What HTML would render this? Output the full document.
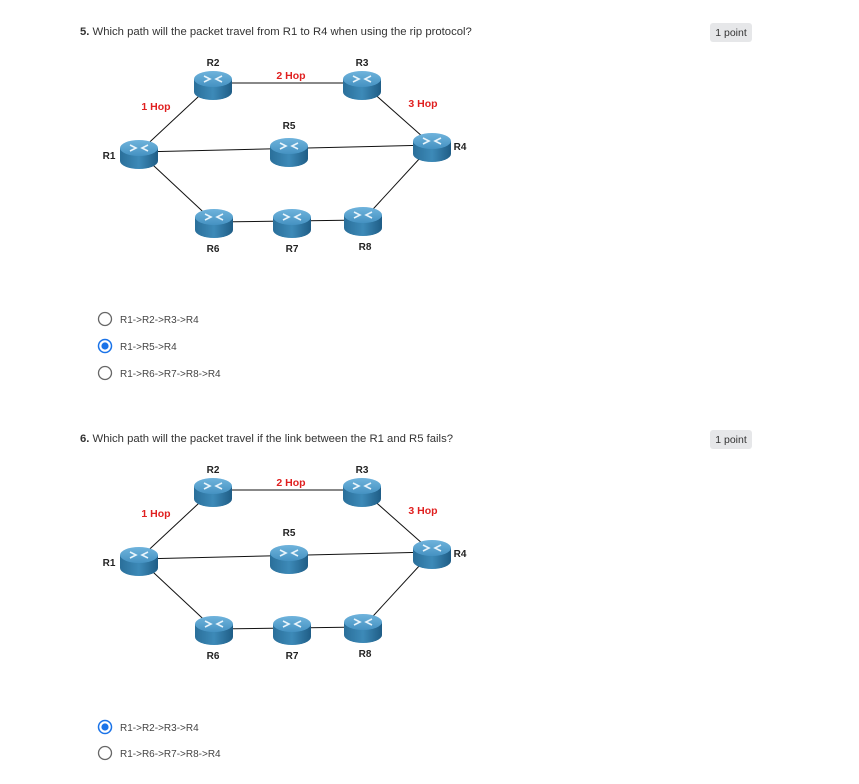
<!DOCTYPE html>
<html><head><meta charset="utf-8"><style>
body{margin:0;background:#fff;width:859px;height:784px;overflow:hidden}
svg{display:block}
.q{font-family:"Liberation Sans",sans-serif;font-size:11.3px;fill:#333}
.n{font-family:"Liberation Sans",sans-serif;font-size:10px;font-weight:bold;fill:#222}
.h{font-family:"Liberation Sans",sans-serif;font-size:10.5px;font-weight:bold;fill:#e02020}
.o{font-family:"Liberation Sans",sans-serif;font-size:10px;fill:#444}
.b{font-family:"Liberation Sans",sans-serif;font-size:10.5px;fill:#333}
</style></head><body>
<svg width="859" height="784" viewBox="0 0 859 784">
<defs>
<linearGradient id="side" x1="0" x2="1" y1="0" y2="0">
<stop offset="0" stop-color="#2a6f9a"/><stop offset="0.5" stop-color="#3d8ab8"/><stop offset="1" stop-color="#1f5d86"/></linearGradient>
<linearGradient id="top" x1="0" x2="0" y1="0" y2="1">
<stop offset="0" stop-color="#6fb3dc"/><stop offset="1" stop-color="#4592c2"/></linearGradient>
<g id="rt">
<path d="M-19,-6 L-19,7 A19,8 0 0 0 19,7 L19,-6 Z" fill="url(#side)"/>
<ellipse cx="0" cy="-6" rx="19" ry="8" fill="url(#top)"/>
<g stroke="#e8f4fb" stroke-width="1.6" fill="none">
<path d="M-9,-9 L-3,-6 L-9,-3"/><path d="M9,-9 L3,-6 L9,-3"/>
</g>
</g>
<g id="net">
<g stroke="#111" stroke-width="1" fill="none">
<line x1="139" y1="152" x2="213" y2="83"/>
<line x1="213" y1="83" x2="362" y2="83"/>
<line x1="362" y1="83" x2="432" y2="145"/>
<line x1="139" y1="152" x2="432" y2="145"/>
<line x1="139" y1="152" x2="214" y2="222"/>
<line x1="214" y1="222" x2="363" y2="220"/>
<line x1="363" y1="220" x2="432" y2="145"/>
</g>
<use href="#rt" x="213" y="85"/>
<use href="#rt" x="362" y="85"/>
<use href="#rt" x="139" y="154"/>
<use href="#rt" x="289" y="152"/>
<use href="#rt" x="432" y="147"/>
<use href="#rt" x="214" y="223"/>
<use href="#rt" x="292" y="223"/>
<use href="#rt" x="363" y="221"/>
<text class="n" x="213" y="66" text-anchor="middle">R2</text>
<text class="n" x="362" y="66" text-anchor="middle">R3</text>
<text class="n" x="289" y="129" text-anchor="middle">R5</text>
<text class="n" x="460" y="150" text-anchor="middle">R4</text>
<text class="n" x="109" y="159" text-anchor="middle">R1</text>
<text class="n" x="213" y="252" text-anchor="middle">R6</text>
<text class="n" x="292" y="252" text-anchor="middle">R7</text>
<text class="n" x="365" y="250" text-anchor="middle">R8</text>
<text class="h" x="156" y="110" text-anchor="middle">1 Hop</text>
<text class="h" x="291" y="79" text-anchor="middle">2 Hop</text>
<text class="h" x="423" y="107" text-anchor="middle">3 Hop</text>
</g>
</defs>

<text class="q" x="80" y="35"><tspan font-weight="bold">5.</tspan>  Which path will the packet travel from R1 to R4 when using the rip protocol?</text>
<rect x="710" y="23" width="42" height="19" rx="3" fill="#e6e7e9"/>
<text class="b" x="731" y="36" text-anchor="middle">1 point</text>
<use href="#net"/>
<circle cx="105" cy="319" r="6.5" fill="none" stroke="#666" stroke-width="1.3"/>
<text class="o" x="120" y="323">R1-&gt;R2-&gt;R3-&gt;R4</text>
<circle cx="105" cy="346" r="6.5" fill="none" stroke="#1a73e8" stroke-width="1.5"/>
<circle cx="105" cy="346" r="3.6" fill="#1a73e8"/>
<text class="o" x="120" y="350">R1-&gt;R5-&gt;R4</text>
<circle cx="105" cy="373" r="6.5" fill="none" stroke="#666" stroke-width="1.3"/>
<text class="o" x="120" y="377">R1-&gt;R6-&gt;R7-&gt;R8-&gt;R4</text>

<text class="q" x="80" y="442"><tspan font-weight="bold">6.</tspan>  Which path will the packet travel if the link between the R1 and R5 fails?</text>
<rect x="710" y="430" width="42" height="19" rx="3" fill="#e6e7e9"/>
<text class="b" x="731" y="443" text-anchor="middle">1 point</text>
<use href="#net" y="407"/>
<circle cx="105" cy="727" r="6.5" fill="none" stroke="#1a73e8" stroke-width="1.5"/>
<circle cx="105" cy="727" r="3.6" fill="#1a73e8"/>
<text class="o" x="120" y="731">R1-&gt;R2-&gt;R3-&gt;R4</text>
<circle cx="105" cy="753" r="6.5" fill="none" stroke="#666" stroke-width="1.3"/>
<text class="o" x="120" y="757">R1-&gt;R6-&gt;R7-&gt;R8-&gt;R4</text>
</svg>
</body></html>
